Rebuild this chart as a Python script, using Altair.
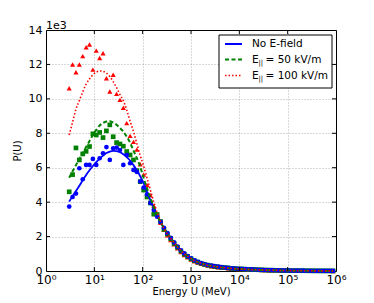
import altair as alt
import pandas as pd

# log10 of energy U (MeV) for the sampled bins
log10_energy = [0.48, 0.55, 0.62, 0.69, 0.76, 0.83, 0.90, 0.97, 1.04, 1.11,
                1.18, 1.25, 1.32, 1.39, 1.46, 1.53, 1.60, 1.67, 1.74, 1.81,
                1.88, 1.95, 2.02, 2.09, 2.16, 2.23, 2.30, 2.37, 2.44, 2.51,
                2.58, 2.65, 2.72, 2.79, 2.86, 2.93, 3.00, 3.07, 3.14, 3.21,
                3.28, 3.35, 3.42, 3.49, 3.56, 3.63, 3.70, 3.77, 3.84, 3.91,
                3.98, 4.05, 4.12, 4.19, 4.26, 4.33, 4.40, 4.47, 4.54, 4.61,
                4.68, 4.75, 4.82, 4.89, 4.96, 5.03, 5.10, 5.17, 5.24, 5.31,
                5.38, 5.45, 5.52, 5.59, 5.66, 5.73, 5.80, 5.87, 5.94]

# P(U) in units of 1e3
blue_points = [3.74, 4.30, 4.50, 5.97, 5.33, 6.16, 6.16, 6.51, 6.16, 6.55,
               6.84, 7.20, 6.45, 7.13, 7.17, 7.03, 6.16, 6.74, 6.26, 5.87,
               5.75, 5.20, 4.85, 4.45, 3.95, 3.55, 3.15, 2.85, 2.50, 2.20,
               1.92, 1.66, 1.42, 1.20, 1.02, 0.87, 0.74, 0.62, 0.53, 0.46,
               0.40, 0.35, 0.31, 0.28, 0.25, 0.22, 0.20, 0.18, 0.16, 0.145,
               0.13, 0.12, 0.11, 0.10, 0.09, 0.08, 0.072, 0.065, 0.058, 0.052,
               0.047, 0.042, 0.038, 0.034, 0.030, 0.027, 0.024, 0.021, 0.019, 0.017,
               0.015, 0.013, 0.012, 0.010, 0.009, 0.008, 0.007, 0.006, 0.005]
green_points = [4.60, 5.60, 7.15, 6.45, 6.80, 6.95, 7.23, 7.97, 7.90, 8.05,
                7.75, 8.14, 8.49, 7.80, 7.46, 7.38, 7.25, 6.94, 6.74, 6.45,
                5.83, 5.19, 4.70, 4.30, 3.95, 3.30, 3.28, 2.87, 2.42, 2.15,
                1.88, 1.60, 1.38, 1.16, 0.98, 0.84, 0.71, 0.60, 0.52, 0.45,
                0.39, 0.34, 0.30, 0.27, 0.24, 0.215, 0.195, 0.175, 0.155, 0.14,
                0.125, 0.115, 0.105, 0.095, 0.085, 0.077, 0.07, 0.063, 0.056, 0.05,
                0.045, 0.041, 0.037, 0.033, 0.029, 0.026, 0.023, 0.021, 0.019, 0.017,
                0.015, 0.013, 0.011, 0.010, 0.009, 0.008, 0.007, 0.006, 0.005]
red_points = [10.62, 12.00, 11.55, 12.00, 12.48, 13.00, 13.16, 11.70, 12.80, 12.37,
              12.65, 11.20, 10.43, 11.40, 10.29, 9.94, 9.48, 8.59, 7.85, 7.50,
              7.05, 6.20, 5.60, 5.00, 4.40, 3.80, 3.30, 2.80, 2.40, 2.08,
              1.80, 1.55, 1.32, 1.10, 0.93, 0.80, 0.67, 0.57, 0.49, 0.42,
              0.37, 0.32, 0.28, 0.25, 0.22, 0.20, 0.18, 0.16, 0.145, 0.13,
              0.12, 0.11, 0.10, 0.09, 0.08, 0.072, 0.065, 0.058, 0.052, 0.047,
              0.042, 0.038, 0.034, 0.030, 0.027, 0.024, 0.021, 0.019, 0.017, 0.015,
              0.013, 0.012, 0.010, 0.009, 0.008, 0.007, 0.006, 0.005, 0.004]

blue_curve = [4.03, 4.35, 4.65, 4.95, 5.28, 5.58, 5.85, 6.10, 6.33, 6.53,
              6.70, 6.85, 6.94, 6.98, 6.96, 6.90, 6.78, 6.62, 6.42, 6.15,
              5.85, 5.50, 5.10, 4.60, 4.10, 3.62, 3.20, 2.83, 2.50, 2.20,
              1.92, 1.66, 1.42, 1.20, 1.02, 0.87, 0.73, 0.61, 0.52, 0.45,
              0.39, 0.34, 0.30, 0.27, 0.24, 0.21, 0.19, 0.17, 0.15, 0.135,
              0.12, 0.11, 0.10, 0.09, 0.08, 0.072, 0.065, 0.058, 0.052, 0.047,
              0.042, 0.038, 0.034, 0.030, 0.027, 0.024, 0.021, 0.019, 0.017, 0.015,
              0.013, 0.012, 0.010, 0.009, 0.008, 0.007, 0.006, 0.005, 0.004]
green_curve = [5.42, 5.80, 6.15, 6.50, 6.85, 7.20, 7.55, 7.90, 8.20, 8.45,
               8.60, 8.68, 8.70, 8.62, 8.50, 8.30, 8.10, 7.80, 7.45, 7.00,
               6.55, 6.06, 5.40, 4.80, 4.25, 3.70, 3.22, 2.83, 2.48, 2.18,
               1.92, 1.66, 1.42, 1.20, 1.02, 0.87, 0.73, 0.61, 0.52, 0.45,
               0.39, 0.34, 0.30, 0.27, 0.24, 0.21, 0.19, 0.17, 0.15, 0.135,
               0.12, 0.11, 0.10, 0.09, 0.08, 0.072, 0.065, 0.058, 0.052, 0.047,
               0.042, 0.038, 0.034, 0.030, 0.027, 0.024, 0.021, 0.019, 0.017, 0.015,
               0.013, 0.012, 0.010, 0.009, 0.008, 0.007, 0.006, 0.005, 0.004]
red_curve = [7.90, 8.65, 9.40, 9.90, 10.40, 10.85, 11.15, 11.40, 11.55, 11.62,
             11.60, 11.50, 11.30, 11.00, 10.65, 10.25, 9.90, 9.35, 8.70, 8.10,
             7.40, 6.70, 6.10, 5.40, 4.70, 4.00, 3.40, 2.90, 2.48, 2.15,
             1.90, 1.65, 1.41, 1.19, 1.01, 0.86, 0.72, 0.60, 0.51, 0.44,
             0.38, 0.33, 0.29, 0.26, 0.23, 0.205, 0.185, 0.165, 0.148, 0.133,
             0.12, 0.11, 0.10, 0.09, 0.08, 0.072, 0.065, 0.058, 0.052, 0.047,
             0.042, 0.038, 0.034, 0.030, 0.027, 0.024, 0.021, 0.019, 0.017, 0.015,
             0.013, 0.012, 0.010, 0.009, 0.008, 0.007, 0.006, 0.005, 0.004]

x_ticks = [1, 10, 100, 1000, 10000, 100000, 1000000]
y_ticks = [0, 2, 4, 6, 8, 10, 12, 14]

W, H = 290, 241
FONT = "DejaVu Sans"

energy = [10 ** v for v in log10_energy]


def frame(vals):
    return pd.DataFrame({"U": energy, "P": vals})


xscale = alt.Scale(type="log", domain=[1, 1e6])
yscale = alt.Scale(domain=[0, 14], nice=False, zero=False)

x_axis = alt.Axis(
    values=x_ticks,
    labelExpr="'10' + ['⁰','¹','²','³','⁴','⁵','⁶'][round(log(datum.value)/LN10)]",
    title="Energy U (MeV)", grid=True, ticks=False, domain=False,
    labelFontSize=12, labelPadding=3, titleFontSize=10, titlePadding=1,
    titleFont=FONT, labelFont=FONT, labelColor="#000", titleColor="#000",
    titleFontWeight="normal", labelFlush=False, labelOverlap=False,
)
y_axis = alt.Axis(
    values=y_ticks, title="P(U)", grid=True, ticks=False, domain=False,
    labelFontSize=11, labelPadding=4, titleFontSize=10, titlePadding=6,
    titleFont=FONT, labelFont=FONT, labelColor="#000", titleColor="#000",
    titleFontWeight="normal", labelFlush=False, labelOverlap=False,
)

X = alt.X("U:Q", scale=xscale, axis=x_axis)
Y = alt.Y("P:Q", scale=yscale, axis=y_axis)


def pts(vals, color, shape, size):
    return alt.Chart(frame(vals)).mark_point(
        filled=True, color=color, shape=shape, size=size, opacity=1, strokeWidth=0
    ).encode(x=X, y=Y)


def line(vals, color, dash, width):
    kw = dict(color=color, strokeWidth=width, interpolate="monotone")
    if dash:
        kw["strokeDash"] = dash
    return alt.Chart(frame(vals)).mark_line(**kw).encode(x=X, y=Y)


one = pd.DataFrame({"a": [0]})

# inward ticks on all four sides
tick_df = pd.DataFrame({"U": x_ticks[1:-1]})
ytick_df = pd.DataFrame({"P": y_ticks[1:-1]})
ticks = [
    alt.Chart(tick_df).mark_rule(color="black").encode(
        x=X, y=alt.value(H), y2=alt.value(H - 4)),
    alt.Chart(tick_df).mark_rule(color="black").encode(
        x=X, y=alt.value(0), y2=alt.value(4)),
    alt.Chart(ytick_df).mark_rule(color="black").encode(
        y=Y, x=alt.value(0), x2=alt.value(4)),
    alt.Chart(ytick_df).mark_rule(color="black").encode(
        y=Y, x=alt.value(W), x2=alt.value(W - 4)),
]

# legend
LX0, LX1, LY0, LY1 = 173, 286, 5, 58
rows = [14, 29.5, 45.5]
legend = [
    alt.Chart(one).mark_rect(fill="white", stroke="black", strokeWidth=1).encode(
        x=alt.value(LX0), x2=alt.value(LX1), y=alt.value(LY0), y2=alt.value(LY1)),
    alt.Chart(one).mark_rule(color="#0000ff", strokeWidth=2).encode(
        x=alt.value(179), x2=alt.value(196), y=alt.value(rows[0])),
    alt.Chart(one).mark_rule(color="#008000", strokeWidth=2, strokeDash=[4, 2.5]).encode(
        x=alt.value(179), x2=alt.value(196), y=alt.value(rows[1])),
    alt.Chart(one).mark_rule(color="#ff0000", strokeWidth=1.6, strokeDash=[1.5, 2]).encode(
        x=alt.value(179), x2=alt.value(196), y=alt.value(rows[2])),
    alt.Chart(one).mark_text(text="No E-field", align="left", baseline="middle",
                             font=FONT, fontSize=10.5, color="black").encode(
        x=alt.value(206), y=alt.value(rows[0])),
]
for r, rest in zip(rows[1:], ["= 50 kV/m", "= 100 kV/m"]):
    legend += [
        alt.Chart(one).mark_text(text="E", align="left", baseline="middle",
                                 font=FONT, fontSize=10.5, color="black").encode(
            x=alt.value(206), y=alt.value(r)),
        alt.Chart(one).mark_text(text="||", align="left", baseline="middle",
                                 font=FONT, fontSize=7, color="black").encode(
            x=alt.value(212.5), y=alt.value(r + 3)),
        alt.Chart(one).mark_text(text=rest, align="left", baseline="middle",
                                 font=FONT, fontSize=10.5, color="black").encode(
            x=alt.value(219.5), y=alt.value(r)),
    ]

offset_text = alt.Chart(one).mark_text(
    text="1e3", align="left", baseline="middle", font=FONT, fontSize=11,
    color="black").encode(x=alt.value(0), y=alt.value(-4))

layers = [
    pts(red_points, "#ff0000", "triangle-up", 26),
    pts(green_points, "#008000", "square", 22),
    pts(blue_points, "#0000ff", "circle", 22),
    line(blue_curve, "#0000ff", None, 1.8),
    line(green_curve, "#008000", [4, 2.5], 2),
    line(red_curve, "#ff0000", [1.5, 2], 1.6),
] + ticks + legend + [offset_text]

chart = alt.layer(*layers).properties(
    width=W, height=H,
    autosize=alt.AutoSizeParams(type="none"),
    padding={"left": 38, "top": 22, "right": 20, "bottom": 28},
).configure_view(stroke="black", strokeWidth=1).configure_axis(
    gridColor="#000", gridOpacity=0.3, gridDash=[1, 2], gridWidth=1
)

chart.save("out.html", embed_options={"renderer": "svg", "actions": False})
